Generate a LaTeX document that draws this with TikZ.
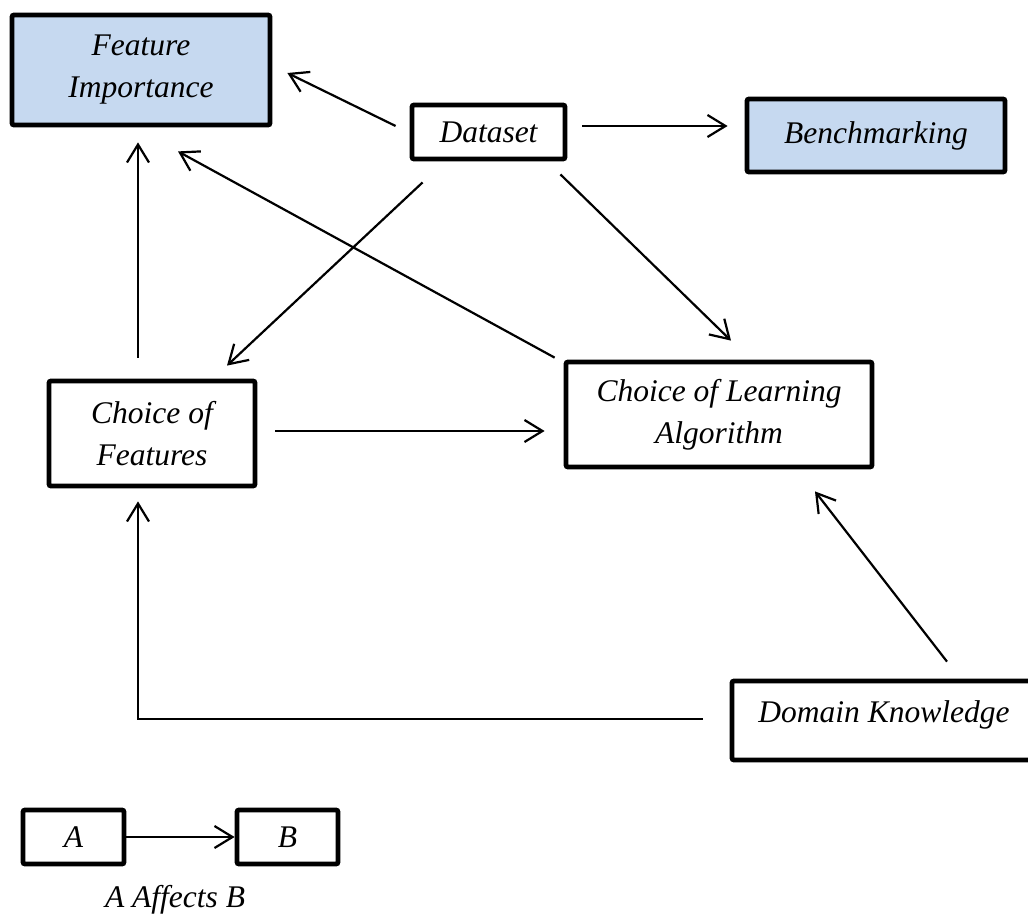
\documentclass[tikz,border=0pt]{standalone}
\usepackage{fontspec}
\setmainfont{Liberation Serif}
\usetikzlibrary{arrows.meta}
\definecolor{boxblue}{HTML}{C6D9F0}

\begin{document}
\begin{tikzpicture}[x=0.5pt,y=-0.5pt,>={Straight Barb[length=9pt,width=11pt]},
    box/.style={draw,line width=2.4pt,rounded corners=1pt,inner sep=0pt,align=center,
        font=\fontsize{15.75}{21}\selectfont\itshape},
    arr/.style={->,line width=1.1pt}]
\clip (0,0) rectangle (1028,915);

\node[box,fill=boxblue,minimum width=129pt,minimum height=55pt](fimp) at (141,70){Feature\\Importance};
\node[box,minimum width=76.5pt,minimum height=27pt](data) at (488.5,132){Dataset};
\node[box,fill=boxblue,minimum width=129pt,minimum height=36.5pt](bench) at (876,135.5){Benchmarking};
\node[box,minimum width=103pt,minimum height=52.5pt](feat) at (152,433.5){Choice of\\Features};
\node[box,minimum width=153pt,minimum height=52.5pt](learn) at (719,414.5){Choice of Learning\\Algorithm};
\node[box,minimum width=152pt,minimum height=39.5pt,text depth=9pt](domain) at (884,720.5){Domain Knowledge};

% legend
\node[box,minimum width=50.5pt,minimum height=27pt](a) at (73.5,837){A};
\node[box,minimum width=50.5pt,minimum height=27pt](b) at (287.5,837){B};
\node[font=\fontsize{15.75}{21}\selectfont\itshape](caption) at (175,900){A Affects B};

\draw[arr]([shift={(-14,-6)}]data.west)--([shift={(15,3)}]fimp.east);
\draw[arr]([shift={(15,-6)}]data.east)--([shift={(-17,-9.5)}]bench.west);
\draw[arr]([shift={(13,21)}]data.south west)--([shift={(75,-13)}]feat.north);
\draw[arr]([shift={(-7,13)}]data.south east)--([shift={(12,-19)}]learn.north);
\draw[arr]([shift={(-9,-2)}]learn.north west)--([shift={(37,24)}]fimp.south);
\draw[arr]([shift={(-14,-21)}]feat.north)--([shift={(-3,15)}]fimp.south);
\draw[arr]([shift={(18,-2.5)}]feat.east)--([shift={(-19,16.5)}]learn.west);
\draw[arr]([shift={(63,-17)}]domain.north)--([shift={(96,22)}]learn.south);
\draw[arr]([shift={(-27,-1.5)}]domain.west)-|([shift={(-14,13)}]feat.south);
\draw[arr](a.east)--(b.west);

\end{tikzpicture}
\end{document}
